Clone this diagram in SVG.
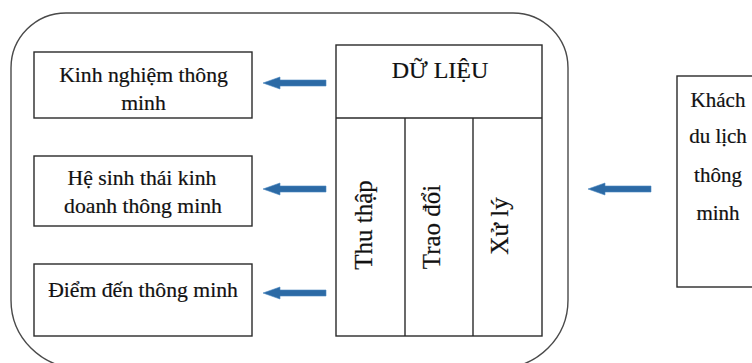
<svg xmlns="http://www.w3.org/2000/svg" width="752" height="363" viewBox="0 0 752 363">
  <style>
    .box { fill: #fff; stroke: #2a2a2a; stroke-width: 1.4; }
    .frame { fill: none; stroke: #4a4a4a; stroke-width: 1.4; }
    text { font-family: 'Liberation Serif', 'Times New Roman', serif; fill: #111; stroke: #111; stroke-width: 0.2; text-anchor: middle; }
    .h { font-size: 21.7px; }
    .v { font-size: 25px; }
    .arrow { fill: #2c6aa5; stroke: #4a86bf; stroke-width: 0.6; }
  </style>
  <defs>
    <!-- block arrow pointing left, tip at origin -->
    <path id="blockArrow" d="M0,0 L17,-6 L17,-3 L63,-3 L63,3 L17,3 L17,6 Z"/>
  </defs>
  <rect width="752" height="363" fill="#fff"/>

  <!-- enclosing rounded frame -->
  <path class="frame" d="M66,13 L513,13 A55,55 0 0 1 568,68 L568,300 A68,68 0 0 1 500,368 L79,368 A68,68 0 0 1 11,300 L11,68 A55,55 0 0 1 66,13 Z"/>

  <g id="node-kinh-nghiem">
    <rect class="box" x="34" y="52" width="218" height="66"/>
    <text class="h" x="143.5" y="82">Kinh nghiệm thông</text>
    <text class="h" x="143.5" y="110">minh</text>
  </g>

  <g id="node-he-sinh-thai">
    <rect class="box" x="34" y="156" width="218" height="70"/>
    <text class="h" x="142" y="185">Hệ sinh thái kinh</text>
    <text class="h" x="143" y="213">doanh thông minh</text>
  </g>

  <g id="node-diem-den">
    <rect class="box" x="34" y="264" width="218" height="72"/>
    <text class="h" x="143" y="297">Điểm đến thông minh</text>
  </g>

  <g id="node-du-lieu">
    <rect class="box" x="336" y="45" width="206" height="291"/>
    <line class="box" x1="336" y1="118" x2="542" y2="118"/>
    <line class="box" x1="405" y1="118" x2="405" y2="336"/>
    <line class="box" x1="473" y1="118" x2="473" y2="336"/>
    <text x="440" y="78" font-size="24">DỮ LIỆU</text>
    <text class="v" transform="translate(372,225) rotate(-90)">Thu thập</text>
    <text class="v" transform="translate(440,227) rotate(-90)">Trao đổi</text>
    <text class="v" transform="translate(508,226) rotate(-90)">Xử lý</text>
  </g>

  <g id="node-khach-du-lich">
    <rect class="box" x="677" y="76" width="100" height="211"/>
    <text font-size="21" x="718" y="107">Khách</text>
    <text font-size="21" x="718" y="143">du lịch</text>
    <text font-size="21" x="718" y="182">thông</text>
    <text font-size="21" x="718" y="220">minh</text>
  </g>

  <g id="connectors">
    <use class="arrow" href="#blockArrow" x="263" y="83"/>
    <use class="arrow" href="#blockArrow" x="263" y="189"/>
    <use class="arrow" href="#blockArrow" x="263" y="293"/>
    <use class="arrow" href="#blockArrow" x="588" y="189"/>
  </g>
</svg>
